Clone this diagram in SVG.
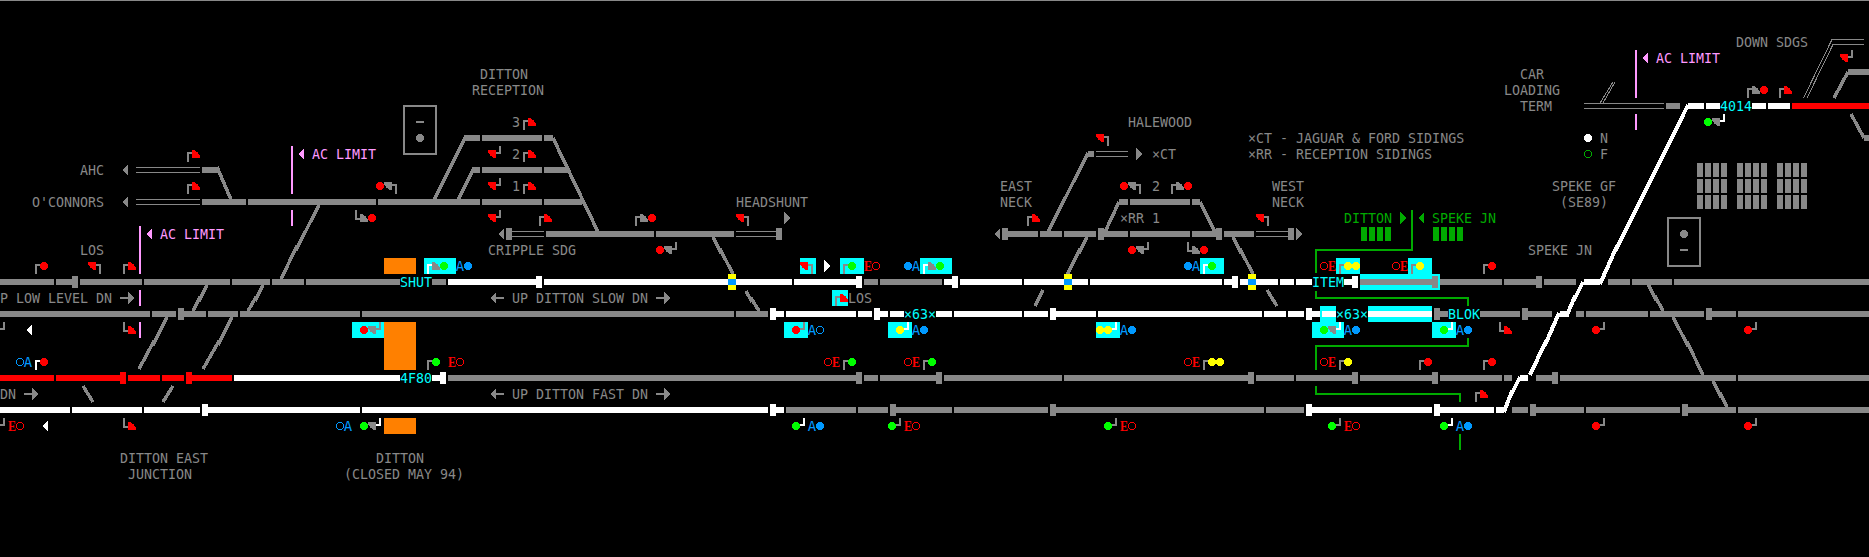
<svg xmlns="http://www.w3.org/2000/svg" width="1869" height="557" viewBox="0 0 1869 557" shape-rendering="crispEdges">
<style>
.t{font-family:"DejaVu Sans Mono","Liberation Mono",monospace;font-size:13.3px;fill:#888}
.tc{fill:#0ff}.tp{fill:#f9f}.tn{fill:#0a0}
.e{font-family:"Liberation Serif",serif;font-weight:bold;font-size:15px;fill:#f00}
.a{font-family:"DejaVu Sans Mono",monospace;font-size:14px;fill:#09f;text-anchor:middle}
.trk{fill:none;stroke-width:6}
.tg{stroke:#888}.tw{stroke:#fff}.tr{stroke:#f00}
.thin{fill:none;stroke:#888;stroke-width:1}
.dg{fill:none;stroke:#888;stroke-width:3.5}
.dw{fill:none;stroke:#fff;stroke-width:4}
.jn{fill:none;stroke-width:6}
.pg{stroke:#888}.pw{stroke:#fff}
.p{fill:none;stroke-width:2}
.r{fill:#f00}.g{fill:#0f0}.y{fill:#ff0}.gh{fill:#888}.b{fill:#09f}.w{fill:#fff}.pk{fill:#f9f}.pn{fill:#0a0}.c{fill:#0ff}.o{fill:#ff8000}
.rr{fill:none;stroke:#f00}.rb{fill:none;stroke:#09f}.rn{fill:none;stroke:#0a0}
.ln{fill:none;stroke:#0a0;stroke-width:2}
.lk{fill:none;stroke:#f9f;stroke-width:2}
.box{fill:none;stroke:#888;stroke-width:2}
</style>
<defs>
<path id="qTR" d="M0 0V-8A8 8 0 0 1 8 0Z"/>
<path id="qBL" d="M0 0H-8A8 8 0 0 0 0 8Z"/>
<path id="UR" class="p" d="M-4 4V-5H0"/>
<path id="DR" class="p" d="M-4 -12V-3H0"/>
<path id="UL" class="p" d="M4 12V3H0"/>
<path id="DL" class="p" d="M4 -4V3H0"/>
<polygon id="tl" points="0,0 6,-6 6,6"/>
<polygon id="tr" points="0,-6 0,6 6,0"/>
<path id="ar" d="M0 -1H8V-6L14 0L8 6V1H0Z"/>
</defs>
<rect width="1869" height="557" fill="#000"/>
<rect width="1869" height="1" fill="#888"/>

<g id="highlights">
<rect class="c" x="424" y="258" width="32" height="16"/><rect class="c" x="352" y="322" width="32" height="16"/>
<rect class="c" x="800" y="258" width="16" height="16"/><rect class="c" x="840" y="258" width="24" height="16"/>
<rect class="c" x="920" y="258" width="32" height="16"/><rect class="c" x="832" y="290" width="16" height="16"/>
<rect class="c" x="784" y="322" width="24" height="16"/><rect class="c" x="888" y="322" width="24" height="16"/>
<rect class="c" x="1096" y="322" width="24" height="16"/><rect class="c" x="1200" y="258" width="24" height="16"/>
<rect class="c" x="1336" y="258" width="24" height="16"/><rect class="c" x="1408" y="258" width="24" height="16"/>
<rect class="c" x="1360" y="274" width="80" height="16"/><rect class="c" x="1320" y="306" width="16" height="16"/>
<rect class="c" x="1368" y="306" width="64" height="16"/><rect class="c" x="1312" y="322" width="32" height="16"/>
<rect class="c" x="1432" y="322" width="24" height="16"/>
<rect class="o" x="384" y="258" width="32" height="16"/><rect class="o" x="384" y="322" width="32" height="48"/><rect class="o" x="384" y="418" width="32" height="16"/>
</g>

<g id="connectors">
<path class="trk tg" d="M0 282H54M56 282H78M80 282H142M144 282H230M232 282H270M272 282H304M306 282H400M432 282H446M864 282H878M880 282H942M1360 282H1432M1440 282H1502M1504 282H1542M1544 282H1576M1608 282H1630M1632 282H1672M1674 282H1869"/>
<path class="trk tw" d="M448 282H536M544 282H792M794 282H856M944 282H952M960 282H1022M1024 282H1088M1090 282H1222M1224 282H1232M1240 282H1278M1280 282H1294M1296 282H1312M1344 282H1352M1584 282H1600"/>
<path class="trk tg" d="M0 314H150M152 314H176M184 314H206M208 314H238M240 314H360M362 314H734M736 314H768M1440 314H1448M1480 314H1520M1528 314H1552M1576 314H1584M1586 314H1648M1650 314H1704M1712 314H1736M1738 314H1869"/>
<path class="trk tw" d="M776 314H784M786 314H856M858 314H872M880 314H888M890 314H904M936 314H952M954 314H1022M1024 314H1048M1056 314H1096M1098 314H1262M1264 314H1286M1288 314H1304M1312 314H1320M1322 314H1336M1368 314H1432M1560 314H1569"/>
<path class="trk tr" d="M0 378H54M56 378H120M128 378H160M162 378H184M192 378H232M1792 106H1869"/>
<path class="trk tw" d="M234 378H400M432 378H440M1520 378H1528"/>
<path class="trk tg" d="M448 378H856M864 378H878M880 378H936M944 378H1062M1064 378H1248M1256 378H1294M1296 378H1352M1360 378H1432M1440 378H1502M1504 378H1512M1536 378H1552M1560 378H1736M1738 378H1869"/>
<path class="trk tw" d="M0 410H70M72 410H142M144 410H200M208 410H360M362 410H768M776 410H784M1312 410H1432M1440 410H1494M1496 410H1504"/>
<path class="trk tg" d="M786 410H856M858 410H888M896 410H952M954 410H1048M1056 410H1264M1266 410H1304M1512 410H1528M1536 410H1584M1586 410H1680M1688 410H1736M1738 410H1869"/>
<path class="trk tg" d="M202 170H217M472 170H480M482 170H542M544 170H569M202 202H246M248 202H376M378 202H480M482 202H542M544 202H582M1119 202H1128M1130 202H1190M1192 202H1200M464 138H480M482 138H542M544 138H553M546 234H654M656 234H734M1008 234H1038M1040 234H1062M1064 234H1096M1104 234H1128M1130 234H1190M1192 234H1216M1224 234H1254M1088 154H1094M1666 106H1680M1848 72H1869M1864 138H1869"/>
<path class="trk tw" d="M1688 106H1704M1706 106H1720M1752 106H1766M1768 106H1790"/>
<path class="jn tg" d="M75 276V288M1435 276V288M1539 276V288M181 308V320M1437 308V320M1525 308V320M1709 308V320M859 372V384M939 372V384M1251 372V384M1355 372V384M1435 372V384M1555 372V384M893 404V416M1053 404V416M1533 404V416M1685 404V416M509 228V240M779 228V240M1005 228V240M1101 228V240M1219 228V240M1291 228V240"/>
<path class="jn tw" d="M539 276V288M859 276V288M955 276V288M1235 276V288M1355 276V288M773 308V320M877 308V320M1053 308V320M1309 308V320M443 372V384M205 404V416M773 404V416M1309 404V416M1437 404V416"/>
<path class="jn tr" d="M123 372V384M189 372V384"/>
<path class="thin" d="M136 167.500H200M136 172.500H200M136 199.500H200M136 204.500H200M512 231.500H544M512 236.500H544M736 231.500H776M736 236.500H776M1096 151.500H1128M1096 156.500H1128M1256 231.500H1288M1256 236.500H1288M1584 103.500H1664M1584 108.500H1664M1600 103L1613 82M1603 103L1615 82M1803.500 98L1832 39.500H1864M1807 98L1833 44.500H1864"/>
<path class="dg" d="M217 167L232 202M433 202L465 138M457 202L473 170M553 138L599 234M1088 153L1048 232M1119 202L1105 232M1200 202L1215 232M319 205L296 250M297 246L281 279M207 285L199 301M200 297L193 311M263 285L255 301M256 297L248 311M167 317L153 345M154 341L139 369M232 317L218 345M219 341L203 369M83 386L93 402M173 386L163 402M713 237L721 253M720 249L733 274M746 291L752 302M751 298L759 311M1087 237L1079 253M1080 249L1067 275M1233 237L1241 253M1240 249L1253 274M1043 290L1035 306M1267 290L1277 306M1648 284L1656 300M1655 296L1663 311M1673 317L1688 346M1687 342L1703 375M1713 381L1721 397M1720 393L1727 407M1834 98L1848 72M1851 114L1864 138"/>
<path class="dw" d="M1688 105L1616 250M1617 246L1600 284M1583 282L1574 300M1575 296L1567 315M1559 313L1545 345M1546 341L1530 375M1520 377L1511 395M1512 391L1504 412"/>
<g id="crossing-markers">
<rect class="y" x="728" y="274" width="8" height="16"/><rect class="b" x="728" y="279" width="8" height="6"/>
<rect class="y" x="1064" y="274" width="8" height="16"/><rect class="b" x="1064" y="279" width="8" height="6"/>
<rect class="y" x="1248" y="274" width="8" height="16"/><rect class="b" x="1248" y="279" width="8" height="6"/>
</g>
</g>

<g id="limits">
<path class="lk" d="M292 146V194M292 210V226M140 226V274M140 290V306M140 322V338M1636 50V98M1636 114V130"/>
<use href="#tl" class="pk" x="298" y="154"/><use href="#tl" class="pk" x="146" y="234"/><use href="#tl" class="pk" x="1642" y="58"/>
<text class="t tp" x="312" y="159">AC LIMIT</text><text class="t tp" x="160" y="239">AC LIMIT</text><text class="t tp" x="1656" y="63">AC LIMIT</text>
</g>

<g id="area-boundary">
<path class="ln" d="M1412 210V250H1316V273M1316 291V298H1468V306M1468 338V346H1316V370M1316 386V394H1460V402M1460 434V450"/>
<use href="#tr" class="pn" x="1400" y="218"/><use href="#tl" class="pn" x="1418" y="218"/>
<text class="t tn" x="1344" y="223">DITTON</text><text class="t tn" x="1432" y="223">SPEKE JN</text>
<path class="pn" d="M1361 227h6v14h-6zM1369 227h6v14h-6zM1377 227h6v14h-6zM1385 227h6v14h-6zM1433 227h6v14h-6zM1441 227h6v14h-6zM1449 227h6v14h-6zM1457 227h6v14h-6z"/>
</g>

<g id="panel-blocks">
<path class="gh" d="M1697 163h6v14h-6zM1705 163h6v14h-6zM1713 163h6v14h-6zM1721 163h6v14h-6zM1737 163h6v14h-6zM1745 163h6v14h-6zM1753 163h6v14h-6zM1761 163h6v14h-6zM1777 163h6v14h-6zM1785 163h6v14h-6zM1793 163h6v14h-6zM1801 163h6v14h-6zM1697 179h6v14h-6zM1705 179h6v14h-6zM1713 179h6v14h-6zM1721 179h6v14h-6zM1737 179h6v14h-6zM1745 179h6v14h-6zM1753 179h6v14h-6zM1761 179h6v14h-6zM1777 179h6v14h-6zM1785 179h6v14h-6zM1793 179h6v14h-6zM1801 179h6v14h-6zM1697 195h6v14h-6zM1705 195h6v14h-6zM1713 195h6v14h-6zM1721 195h6v14h-6zM1737 195h6v14h-6zM1745 195h6v14h-6zM1753 195h6v14h-6zM1761 195h6v14h-6zM1777 195h6v14h-6zM1785 195h6v14h-6zM1793 195h6v14h-6zM1801 195h6v14h-6z"/>
</g>

<g id="box-ditton"><rect class="box" x="404" y="106" width="32" height="48"/><rect class="gh" x="416" y="121" width="8" height="2"/><circle class="gh" cx="420" cy="138" r="4"/></g>
<g id="box-speke"><rect class="box" x="1668" y="218" width="32" height="48"/><circle class="gh" cx="1684" cy="234" r="4"/><rect class="gh" x="1680" y="249" width="8" height="2"/></g>
<g id="legend"><circle class="w" cx="1588" cy="138" r="4"/><circle class="rn" cx="1588" cy="154" r="3.500"/><text class="t" x="1600" y="143">N</text><text class="t" x="1600" y="159">F</text></g>

<g id="direction-marks">
<use href="#tl" class="gh" x="122" y="170"/><use href="#tl" class="gh" x="122" y="202"/><use href="#tl" class="w" x="26" y="330"/><use href="#tl" class="w" x="42" y="426"/>
<use href="#tl" class="gh" x="498" y="234"/><use href="#tr" class="gh" x="784" y="218"/><use href="#tr" class="w" x="824" y="266"/>
<use href="#tr" class="gh" x="1136" y="154"/><use href="#tl" class="gh" x="994" y="234"/><use href="#tr" class="gh" x="1296" y="234"/>
<use href="#ar" class="gh" transform="translate(120 298)"/><use href="#ar" class="gh" transform="translate(24 394)"/>
<use href="#ar" class="gh" transform="translate(504 298) scale(-1 1)"/><use href="#ar" class="gh" transform="translate(656 298)"/>
<use href="#ar" class="gh" transform="translate(504 394) scale(-1 1)"/><use href="#ar" class="gh" transform="translate(656 394)"/>
</g>

<g id="signals">
<g id="q1" transform="translate(192 158)"><use href="#UR" class="pg"/><use href="#qTR" class="r"/></g>
<g id="q2" transform="translate(192 190)"><use href="#UR" class="pg"/><use href="#qTR" class="r"/></g>
<g id="q3" transform="translate(96 262)"><use href="#UL" class="pg"/><use href="#qBL" class="r"/></g>
<g id="q4" transform="translate(128 270)"><use href="#UR" class="pg"/><use href="#qTR" class="r"/></g>
<g id="q5" transform="translate(128 334)"><use href="#DR" class="pg"/><use href="#qTR" class="r"/></g>
<g id="q6" transform="translate(128 430)"><use href="#DR" class="pg"/><use href="#qTR" class="r"/></g>
<g id="q7" transform="translate(528 126)"><use href="#UR" class="pg"/><use href="#qTR" class="r"/></g>
<g id="q8" transform="translate(528 158)"><use href="#UR" class="pg"/><use href="#qTR" class="r"/></g>
<g id="q9" transform="translate(528 190)"><use href="#UR" class="pg"/><use href="#qTR" class="r"/></g>
<g id="q10" transform="translate(496 150)"><use href="#DL" class="pg"/><use href="#qBL" class="r"/></g>
<g id="q11" transform="translate(496 182)"><use href="#DL" class="pg"/><use href="#qBL" class="r"/></g>
<g id="q12" transform="translate(496 214)"><use href="#DL" class="pg"/><use href="#qBL" class="r"/></g>
<g id="q13" transform="translate(544 222)"><use href="#UR" class="pg"/><use href="#qTR" class="r"/></g>
<g id="q14" transform="translate(744 214)"><use href="#UL" class="pg"/><use href="#qBL" class="r"/></g>
<g id="q15" transform="translate(808 262)"><use href="#UL" class="pg"/><use href="#qBL" class="r"/></g>
<g id="q16" transform="translate(840 302)"><use href="#UR" class="pg"/><use href="#qTR" class="r"/></g>
<g id="q17" transform="translate(1104 134)"><use href="#UL" class="pg"/><use href="#qBL" class="r"/></g>
<g id="q18" transform="translate(1032 222)"><use href="#UR" class="pg"/><use href="#qTR" class="r"/></g>
<g id="q19" transform="translate(1264 214)"><use href="#UL" class="pg"/><use href="#qBL" class="r"/></g>
<g id="q20" transform="translate(1504 334)"><use href="#DR" class="pg"/><use href="#qTR" class="r"/></g>
<g id="q21" transform="translate(1480 398)"><use href="#UR" class="pg"/><use href="#qTR" class="r"/></g>
<g id="q22" transform="translate(1784 94)"><use href="#UR" class="pg"/><use href="#qTR" class="r"/></g>
<g id="q23" transform="translate(1848 54)"><use href="#DL" class="pg"/><use href="#qBL" class="r"/></g>

<g id="h1" transform="translate(392 182)"><use href="#UL" class="pg"/><use href="#qBL" class="gh"/><circle class="r" cx="-12" cy="4" r="4"/></g>
<g id="h2" transform="translate(360 222)"><use href="#DR" class="pg"/><use href="#qTR" class="gh"/><circle class="r" cx="12" cy="-4" r="4"/></g>
<g id="h3" transform="translate(640 222)"><use href="#UR" class="pg"/><use href="#qTR" class="gh"/><circle class="r" cx="12" cy="-4" r="4"/></g>
<g id="h4" transform="translate(672 246)"><use href="#DL" class="pg"/><use href="#qBL" class="gh"/><circle class="r" cx="-12" cy="4" r="4"/></g>
<g id="h5" transform="translate(1136 182)"><use href="#UL" class="pg"/><use href="#qBL" class="gh"/><circle class="r" cx="-12" cy="4" r="4"/></g>
<g id="h6" transform="translate(1176 190)"><use href="#UR" class="pg"/><use href="#qTR" class="gh"/><circle class="r" cx="12" cy="-4" r="4"/></g>
<g id="h7" transform="translate(1144 246)"><use href="#DL" class="pg"/><use href="#qBL" class="gh"/><circle class="r" cx="-12" cy="4" r="4"/></g>
<g id="h8" transform="translate(1192 254)"><use href="#DR" class="pg"/><use href="#qTR" class="gh"/><circle class="r" cx="12" cy="-4" r="4"/></g>
<g id="h9" transform="translate(1752 94)"><use href="#UR" class="pg"/><use href="#qTR" class="gh"/><circle class="r" cx="12" cy="-4" r="4"/></g>
<g id="h10" transform="translate(432 270)"><use href="#UR" class="pw"/><use href="#qTR" class="gh"/><circle class="g" cx="12" cy="-4" r="4"/></g>
<g id="h11" transform="translate(376 326)"><use href="#DL" class="pg"/><use href="#qBL" class="gh"/><circle class="r" cx="-12" cy="4" r="4"/></g>
<g id="h12" transform="translate(376 422)"><use href="#DL" class="pw"/><use href="#qBL" class="gh"/><circle class="g" cx="-12" cy="4" r="4"/></g>
<g id="h13" transform="translate(928 270)"><use href="#UR" class="pw"/><use href="#qTR" class="gh"/><circle class="g" cx="12" cy="-4" r="4"/></g>
<g id="h14" transform="translate(1336 326)"><use href="#DL" class="pw"/><use href="#qBL" class="gh"/><circle class="g" cx="-12" cy="4" r="4"/></g>
<g id="h15" transform="translate(1720 118)"><use href="#DL" class="pw"/><use href="#qBL" class="gh"/><circle class="g" cx="-12" cy="4" r="4"/></g>

<g id="c1" transform="translate(40 270)"><use href="#UR" class="pg"/><circle class="r" cx="4" cy="-4" r="4"/></g>
<g id="c2" transform="translate(40 366)"><use href="#UR" class="pw"/><circle class="r" cx="4" cy="-4" r="4"/></g>
<g id="c3" transform="translate(432 366)"><use href="#UR" class="pg"/><circle class="g" cx="4" cy="-4" r="4"/></g>
<g id="c4" transform="translate(848 270)"><use href="#UR" class="pg"/><circle class="g" cx="4" cy="-4" r="4"/></g>
<g id="c5" transform="translate(800 326)"><use href="#DL" class="pg"/><circle class="r" cx="-4" cy="4" r="4"/></g>
<g id="c6" transform="translate(904 326)"><use href="#DL" class="pw"/><circle class="y" cx="-4" cy="4" r="4"/></g>
<g id="c7" transform="translate(848 366)"><use href="#UR" class="pg"/><circle class="g" cx="4" cy="-4" r="4"/></g>
<g id="c8" transform="translate(928 366)"><use href="#UR" class="pg"/><circle class="g" cx="4" cy="-4" r="4"/></g>
<g id="c9" transform="translate(800 422)"><use href="#DL" class="pw"/><circle class="g" cx="-4" cy="4" r="4"/></g>
<g id="c10" transform="translate(896 422)"><use href="#DL" class="pg"/><circle class="g" cx="-4" cy="4" r="4"/></g>
<g id="c11" transform="translate(1112 326)"><use href="#DL" class="pw"/><circle class="y" cx="-4" cy="4" r="4"/><circle class="y" cx="-12" cy="4" r="4"/></g>
<g id="c12" transform="translate(1208 270)"><use href="#UR" class="pw"/><circle class="g" cx="4" cy="-4" r="4"/></g>
<g id="c13" transform="translate(1208 366)"><use href="#UR" class="pg"/><circle class="y" cx="4" cy="-4" r="4"/><circle class="y" cx="12" cy="-4" r="4"/></g>
<g id="c14" transform="translate(1112 422)"><use href="#DL" class="pg"/><circle class="g" cx="-4" cy="4" r="4"/></g>
<g id="c15" transform="translate(1344 270)"><use href="#UR" class="pg"/><circle class="y" cx="4" cy="-4" r="4"/><circle class="y" cx="12" cy="-4" r="4"/></g>
<g id="c16" transform="translate(1416 270)"><use href="#UR" class="pg"/><circle class="y" cx="4" cy="-4" r="4"/></g>
<g id="c17" transform="translate(1488 270)"><use href="#UR" class="pg"/><circle class="r" cx="4" cy="-4" r="4"/></g>
<g id="c18" transform="translate(1448 326)"><use href="#DL" class="pw"/><circle class="g" cx="-4" cy="4" r="4"/></g>
<g id="c19" transform="translate(1344 366)"><use href="#UR" class="pg"/><circle class="y" cx="4" cy="-4" r="4"/></g>
<g id="c20" transform="translate(1424 366)"><use href="#UR" class="pg"/><circle class="r" cx="4" cy="-4" r="4"/></g>
<g id="c21" transform="translate(1488 366)"><use href="#UR" class="pg"/><circle class="r" cx="4" cy="-4" r="4"/></g>
<g id="c22" transform="translate(1336 422)"><use href="#DL" class="pg"/><circle class="g" cx="-4" cy="4" r="4"/></g>
<g id="c23" transform="translate(1448 422)"><use href="#DL" class="pw"/><circle class="g" cx="-4" cy="4" r="4"/></g>
<g id="c24" transform="translate(1600 326)"><use href="#DL" class="pg"/><circle class="r" cx="-4" cy="4" r="4"/></g>
<g id="c25" transform="translate(1752 326)"><use href="#DL" class="pg"/><circle class="r" cx="-4" cy="4" r="4"/></g>
<g id="c26" transform="translate(1600 422)"><use href="#DL" class="pg"/><circle class="r" cx="-4" cy="4" r="4"/></g>
<g id="c27" transform="translate(1752 422)"><use href="#DL" class="pg"/><circle class="r" cx="-4" cy="4" r="4"/></g>
<g id="edge1" transform="translate(0 326)"><use href="#DL" class="pg"/></g>
<g id="edge2" transform="translate(0 422)"><use href="#DL" class="pg"/></g>
</g>

<g id="indicators">
<text class="e" x="8" y="431" textLength="8" lengthAdjust="spacingAndGlyphs">E</text><text class="e" x="448" y="367" textLength="8" lengthAdjust="spacingAndGlyphs">E</text><text class="e" x="864" y="271" textLength="8" lengthAdjust="spacingAndGlyphs">E</text><text class="e" x="832" y="367" textLength="8" lengthAdjust="spacingAndGlyphs">E</text><text class="e" x="912" y="367" textLength="8" lengthAdjust="spacingAndGlyphs">E</text><text class="e" x="904" y="431" textLength="8" lengthAdjust="spacingAndGlyphs">E</text><text class="e" x="1192" y="367" textLength="8" lengthAdjust="spacingAndGlyphs">E</text><text class="e" x="1120" y="431" textLength="8" lengthAdjust="spacingAndGlyphs">E</text><text class="e" x="1328" y="271" textLength="8" lengthAdjust="spacingAndGlyphs">E</text><text class="e" x="1400" y="271" textLength="8" lengthAdjust="spacingAndGlyphs">E</text><text class="e" x="1328" y="367" textLength="8" lengthAdjust="spacingAndGlyphs">E</text><text class="e" x="1344" y="431" textLength="8" lengthAdjust="spacingAndGlyphs">E</text>
<circle class="rr" cx="20" cy="426" r="3.500"/><circle class="rr" cx="460" cy="362" r="3.500"/><circle class="rr" cx="876" cy="266" r="3.500"/><circle class="rr" cx="828" cy="362" r="3.500"/><circle class="rr" cx="908" cy="362" r="3.500"/><circle class="rr" cx="916" cy="426" r="3.500"/><circle class="rr" cx="1188" cy="362" r="3.500"/><circle class="rr" cx="1132" cy="426" r="3.500"/><circle class="rr" cx="1324" cy="266" r="3.500"/><circle class="rr" cx="1396" cy="266" r="3.500"/><circle class="rr" cx="1324" cy="362" r="3.500"/><circle class="rr" cx="1356" cy="426" r="3.500"/>
<text class="a" x="28" y="367">A</text><text class="a" x="348" y="431">A</text><text class="a" x="460" y="271">A</text><text class="a" x="916" y="271">A</text><text class="a" x="812" y="335">A</text><text class="a" x="916" y="335">A</text><text class="a" x="812" y="431">A</text><text class="a" x="1124" y="335">A</text><text class="a" x="1196" y="271">A</text><text class="a" x="1348" y="335">A</text><text class="a" x="1460" y="335">A</text><text class="a" x="1460" y="431">A</text>
<circle class="b" cx="468" cy="266" r="4"/><circle class="b" cx="908" cy="266" r="4"/><circle class="b" cx="924" cy="330" r="4"/><circle class="b" cx="820" cy="426" r="4"/><circle class="b" cx="1132" cy="330" r="4"/><circle class="b" cx="1188" cy="266" r="4"/><circle class="b" cx="1356" cy="330" r="4"/><circle class="b" cx="1468" cy="330" r="4"/><circle class="b" cx="1468" cy="426" r="4"/>
<circle class="rb" cx="20" cy="362" r="3.500"/><circle class="rb" cx="340" cy="426" r="3.500"/><circle class="rb" cx="820" cy="330" r="3.500"/>
</g>

<g id="train-labels">
<text class="t tc" x="400" y="287">SHUT</text><text class="t tc" x="400" y="383">4F80</text><text class="t tc" x="904" y="319">×63×</text><text class="t tc" x="1312" y="287">ITEM</text><text class="t tc" x="1336" y="319">×63×</text><text class="t tc" x="1448" y="319">BLOK</text><text class="t tc" x="1720" y="111">4014</text>
</g>

<g id="labels">
<text class="t" x="80" y="175">AHC</text><text class="t" x="32" y="207">O'CONNORS</text><text class="t" x="80" y="255">LOS</text>
<text class="t" x="0" y="303">P LOW LEVEL DN</text><text class="t" x="0" y="399">DN</text>
<text class="t" x="120" y="463">DITTON EAST</text><text class="t" x="128" y="479">JUNCTION</text>
<text class="t" x="480" y="79">DITTON</text><text class="t" x="472" y="95">RECEPTION</text>
<text class="t" x="512" y="127">3</text><text class="t" x="512" y="159">2</text><text class="t" x="512" y="191">1</text>
<text class="t" x="488" y="255">CRIPPLE SDG</text><text class="t" x="736" y="207">HEADSHUNT</text>
<text class="t" x="512" y="303">UP DITTON SLOW DN</text><text class="t" x="512" y="399">UP DITTON FAST DN</text>
<text class="t" x="376" y="463">DITTON</text><text class="t" x="344" y="479">(CLOSED MAY 94)</text>
<text class="t" x="848" y="303">LOS</text>
<text class="t" x="1128" y="127">HALEWOOD</text><text class="t" x="1152" y="159">×CT</text>
<text class="t" x="1000" y="191">EAST</text><text class="t" x="1000" y="207">NECK</text><text class="t" x="1272" y="191">WEST</text><text class="t" x="1272" y="207">NECK</text>
<text class="t" x="1152" y="191">2</text><text class="t" x="1120" y="223">×RR 1</text>
<text class="t" x="1248" y="143">×CT - JAGUAR &amp; FORD SIDINGS</text><text class="t" x="1248" y="159">×RR - RECEPTION SIDINGS</text>
<text class="t" x="1520" y="79">CAR</text><text class="t" x="1504" y="95">LOADING</text><text class="t" x="1520" y="111">TERM</text>
<text class="t" x="1736" y="47">DOWN SDGS</text><text class="t" x="1552" y="191">SPEKE GF</text><text class="t" x="1560" y="207">(SE89)</text><text class="t" x="1528" y="255">SPEKE JN</text>
</g>
</svg>
